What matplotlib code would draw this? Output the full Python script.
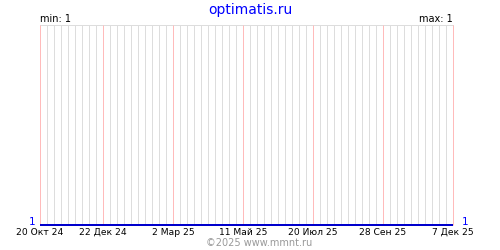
import matplotlib
matplotlib.use("Agg")
import matplotlib.pyplot as plt
import matplotlib.dates as mdates
import datetime as dt

# Data
dates = [dt.date(2024, 10, 20), dt.date(2025, 12, 7)]
values = [1, 1]
tick_dates = [dt.date(2024, 10, 20), dt.date(2024, 12, 22), dt.date(2025, 3, 2),
              dt.date(2025, 5, 11), dt.date(2025, 7, 20), dt.date(2025, 9, 28),
              dt.date(2025, 12, 7)]
tick_labels = ["20 Окт 24", "22 Дек 24", "2 Мар 25", "11 Май 25",
               "20 Июл 25", "28 Сен 25", "7 Дек 25"]
title = "optimatis.ru"
min_label = "min: 1"
max_label = "max: 1"
footer = "©2025 www.mmnt.ru"

plt.rcParams['font.family'] = ['DejaVu Sans']
fig = plt.figure(figsize=(5, 2.5), dpi=100)
ax = fig.add_axes([40/500, 1-225/250, 413/500, 200/250])
for s in ax.spines.values():
    s.set_visible(False)

start = mdates.date2num(dates[0])
end = mdates.date2num(dates[-1])
ax.set_xlim(start, end)
ax.set_ylim(1, 2)

px = 72 / 100
tick_nums = [mdates.date2num(t) for t in tick_dates]
weeks = []
wk = start
while wk <= end + 0.01:
    if not any(abs(wk - t) < 0.5 for t in tick_nums):
        weeks.append(wk)
    wk += 7
ax.vlines(weeks, 1, 2, colors="#dddddd", lw=px, zorder=1, snap=True)
ax.vlines(tick_nums, 1, 2, colors="#ffbbbb", lw=px, zorder=2, snap=True, clip_on=False)
ax.axhline(2, color="#dddddd", lw=px, zorder=1, clip_on=False, snap=True)

ax.plot(mdates.date2num(dates), values, color="#0000cc", lw=2 * px, zorder=3,
        solid_capstyle="butt", clip_on=False, snap=True)

ax.set_xticks(tick_nums)
ax.set_xticklabels(tick_labels, fontsize=6.6)
ax.tick_params(axis="x", length=0, pad=2)
ax.set_yticks([])

fig.text(0.5, 1-10/250, title, color="#0000ff", fontsize=10, ha="center", va="center")
fig.text(40/500, 1-19/250, min_label, fontsize=7, ha="left", va="center")
fig.text(453/500, 1-19/250, max_label, fontsize=7, ha="right", va="center")
fig.text(35/500, 1-222/250, "1", color="#0000ff", fontsize=7.5, ha="right", va="center")
fig.text(462/500, 1-222/250, "1", color="#0000ff", fontsize=7.5, ha="left", va="center")
fig.text(259/500, 1-243/250, footer, color="#999999", fontsize=7, ha="center", va="center")

fig.savefig("out.png", dpi=100)
